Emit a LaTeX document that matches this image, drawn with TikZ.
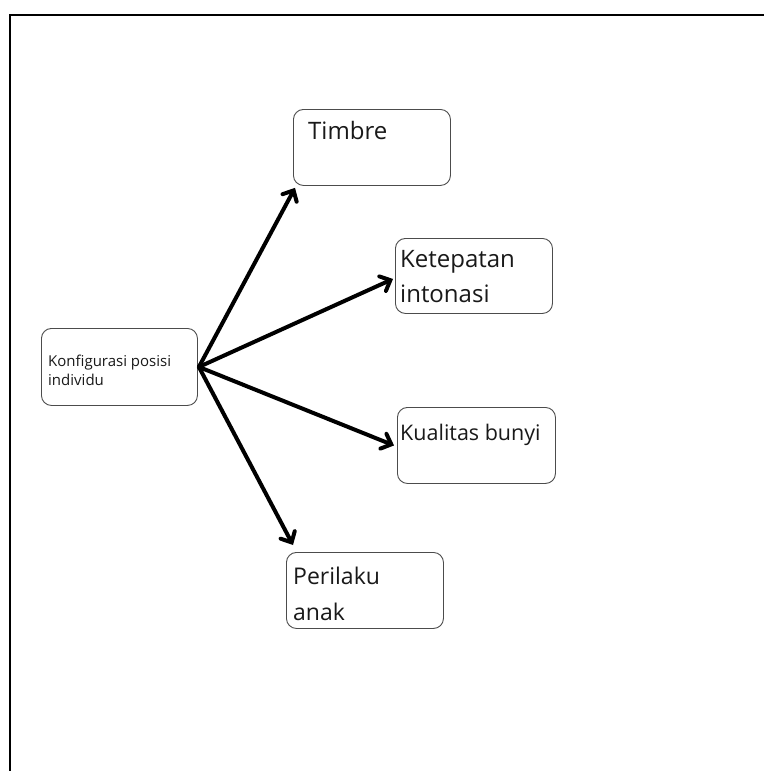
\documentclass[tikz,border=0pt]{standalone}
\usepackage{fontspec}
\setmainfont{Open Sans}
\usetikzlibrary{arrows.meta,calc}

\tikzset{
  frame/.style={line width=1.8pt, black},
  box/.style={draw=black!70, line width=0.9pt, rounded corners=10pt,
    inner sep=0pt, anchor=north west},
  % anchored on the baseline of the last line
  lbl/.style 2 args={anchor=base west, inner sep=0pt, align=left,
    text=black!90, font=\fontsize{#1}{#2}\selectfont},
  link/.style={line width=4pt, line cap=round, line join=round,
    -{Straight Barb[length=8.5pt,width=16pt,line cap=round]}},
}

\begin{document}
\begin{tikzpicture}[x=1pt,y=-1pt]
  \useasboundingbox (0,0) rectangle (764,771);
  \fill[white] (0,0) rectangle (764,771);

  % outer frame (only left and top edges fall inside the page)
  \draw[frame] (10,771) -- (10,15) -- (764,15);

  % boxes
  \node[box, minimum width=156pt, minimum height=77pt] (konf) at (41,328) {};
  \node[box, minimum width=157pt, minimum height=76pt] (timbre) at (293,109) {};
  \node[box, minimum width=157pt, minimum height=75pt] (ketep) at (395,238) {};
  \node[box, minimum width=158pt, minimum height=76pt] (kual) at (397,407) {};
  \node[box, minimum width=157pt, minimum height=76pt] (peri) at (286,552) {};

  % texts
  \node[lbl={15}{19}] (tkonf) at (48,385) {Konfigurasi posisi\\individu};
  \node[lbl={24}{35}] (ttimbre) at (308,139) {Timbre};
  \node[lbl={24}{35}] (tketep) at (400,302) {Ketepatan\\intonasi};
  \node[lbl={21.5}{35}] (tkual) at (400,440) {Kualitas bunyi};
  \node[lbl={23}{36}] (tperi) at (293,620) {Perilaku\\anak};

  % connectors
  \coordinate (src) at ([xshift=1pt]konf.east);
  \draw[link] (src) -- ([xshift=2pt,yshift=-2pt]timbre.south west);
  \draw[link] (src) -- ([xshift=-2pt,yshift=-3pt]ketep.west);
  \draw[link] (src) -- ([xshift=-3pt]kual.west);
  \draw[link] (src) -- ([xshift=7pt,yshift=7pt]peri.north west);
\end{tikzpicture}
\end{document}
